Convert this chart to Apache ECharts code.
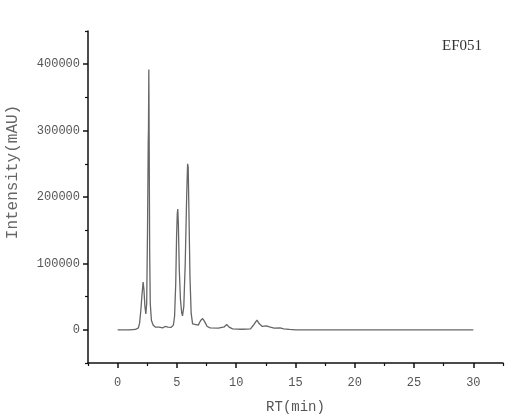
<!DOCTYPE html>
<html>
<head>
<meta charset="utf-8">
<script src="https://cdn.jsdelivr.net/npm/echarts@6/dist/echarts.min.js"></script>
<style>html,body{margin:0;padding:0;background:#fff}#c{width:518px;height:419px}</style>
</head>
<body>
<div id="c"></div>
<script>
var rtMinutes = [0,1.0,1.5,1.75,1.85,1.95,2.05,2.15,2.22,2.3,2.38,2.45,2.52,2.58,2.6,2.63,2.66,2.7,2.75,2.85,3.0,3.2,3.5,3.8,4.0,4.1,4.25,4.5,4.7,4.8,4.9,4.97,5.03,5.07,5.12,5.2,5.3,5.4,5.47,5.58,5.7,5.82,5.9,5.95,6.02,6.1,6.2,6.32,6.46,6.8,7.0,7.17,7.35,7.55,7.8,8.5,9.0,9.2,9.4,9.7,10.5,11.2,11.5,11.75,11.95,12.2,12.55,12.8,13.2,13.7,14.0,14.5,15,30];
var intensity = [0,0,500,3000,10000,28000,52000,72000,60000,35000,24000,40000,150000,284000,300000,392000,280000,120000,40000,14000,7000,4000,4000,3000,5000,7500,4000,3500,7000,20000,70000,140000,175000,182000,160000,90000,45000,26000,21000,35000,100000,200000,250000,245000,170000,80000,25000,9000,6000,7000,14000,17000,12000,5000,3000,2500,4500,8000,4000,1500,800,1500,8000,14500,9000,5000,6000,4500,2500,2800,1500,500,0,0];
var xMajorTicks = [0,5,10,15,20,25,30];
var xMinorTicks = [-2.5,2.5,7.5,12.5,17.5,22.5,27.5,32.5];
var yMajorTicks = [0,100000,200000,300000,400000];
var yMinorTicks = [-50000,50000,150000,250000,350000,450000];
var sampleLabel = 'EF051';

var pts = rtMinutes.map(function(t,i){return [t,intensity[i]];});
var labelFont = 'Liberation Mono';
var chart = echarts.init(document.getElementById('c'));
var axisLine = {show:true, onZero:false, lineStyle:{color:'#111', width:1.5}};
var plain = function(v){return String(v);};
chart.setOption({
  animation:false,
  grid:{left:88, right:15, top:31, bottom:56},
  xAxis:[{
    type:'value', min:-2.5, max:32.5,
    axisLine:axisLine,
    splitLine:{show:false},
    axisTick:{show:true, customValues:xMajorTicks, length:5, lineStyle:{color:'#111', width:1.5}},
    axisLabel:{customValues:xMajorTicks, margin:14, color:'#555', fontFamily:labelFont, fontSize:12, formatter:plain},
    name:'RT(min)', nameLocation:'middle', nameGap:37,
    nameTextStyle:{color:'#555', fontFamily:labelFont, fontSize:14}
  },{
    type:'value', min:-2.5, max:32.5, position:'bottom',
    axisLine:{show:false, onZero:false}, splitLine:{show:false},
    axisTick:{show:true, customValues:xMinorTicks, length:3, lineStyle:{color:'#111', width:1.2}},
    axisLabel:{show:false}
  }],
  yAxis:[{
    type:'value', min:-50000, max:450000,
    axisLine:axisLine,
    splitLine:{show:false},
    axisTick:{show:true, customValues:yMajorTicks, length:5, lineStyle:{color:'#111', width:1.5}},
    axisLabel:{customValues:yMajorTicks, margin:8, color:'#555', fontFamily:labelFont, fontSize:12, formatter:plain}
  },{
    type:'value', min:-50000, max:450000, position:'left',
    axisLine:{show:false, onZero:false}, splitLine:{show:false},
    axisTick:{show:true, customValues:yMinorTicks, length:3, lineStyle:{color:'#111', width:1.2}},
    axisLabel:{show:false}
  }],
  graphic:[
    {type:'text', x:12.5, y:172, rotation:Math.PI/2,
      style:{text:'Intensity(mAU)', fill:'#666', font:'16px "Liberation Mono"', textAlign:'center', textVerticalAlign:'middle'}},
    {type:'text', x:462, y:46,
      style:{text:sampleLabel, fill:'#333', font:'15px "Liberation Serif"', textAlign:'center', textVerticalAlign:'middle'}}
  ],
  series:[{
    type:'line', data:pts, showSymbol:false, symbol:'none',
    lineStyle:{color:'#666', width:1.3}
  }]
});
</script>
</body>
</html>
